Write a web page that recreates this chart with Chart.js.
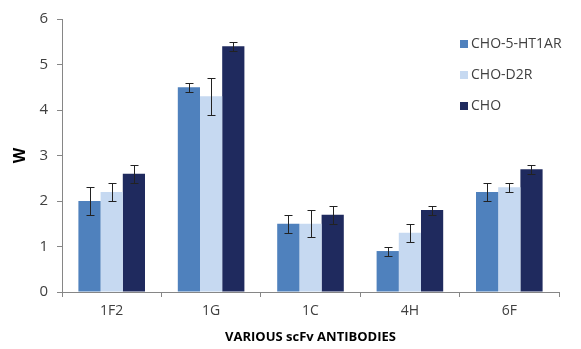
<!DOCTYPE html>
<html>
<head>
<meta charset="utf-8">
<script src="https://cdn.jsdelivr.net/npm/chart.js@4/dist/chart.umd.min.js"></script>
<style>
  html, body { margin: 0; padding: 0; background: #fff; }
  #wrap { width: 581px; height: 349px; }
</style>
</head>
<body>
<div id="wrap"><canvas id="barChart" width="581" height="349"></canvas></div>
<script>
// categories and values
var antibodies = ["1F2", "1G", "1C", "4H", "6F"];
var ht1ar = [2.0, 4.5, 1.5, 0.9, 2.2];
var ht1arErr = [0.3, 0.1, 0.2, 0.1, 0.2];
var d2r = [2.2, 4.3, 1.5, 1.3, 2.3];
var d2rErr = [0.2, 0.4, 0.3, 0.2, 0.1];
var cho = [2.6, 5.4, 1.7, 1.8, 2.7];
var choErr = [0.2, 0.1, 0.2, 0.1, 0.1];
var yTicks = [0, 1, 2, 3, 4, 5, 6];

var fontFam = "'Open Sans', 'Liberation Sans', sans-serif";

// draws error whiskers on top of each bar
var errorBars = {
    id: "errorBars",
    afterDatasetsDraw: function (chart) {
        var ctx = chart.ctx;
        var yScale = chart.scales.y;
        ctx.save();
        ctx.strokeStyle = "#222";
        ctx.lineWidth = 1;
        chart.data.datasets.forEach(function (ds, i) {
            var meta = chart.getDatasetMeta(i);
            meta.data.forEach(function (bar, j) {
                var v = ds.data[j], e = ds.errors[j];
                var x = Math.round(bar.x) + 0.5;
                var yTop = Math.round(yScale.getPixelForValue(v + e)) + 0.5;
                var yBot = Math.round(yScale.getPixelForValue(v - e)) + 0.5;
                ctx.beginPath();
                ctx.moveTo(x, yTop); ctx.lineTo(x, yBot);
                ctx.moveTo(x - 4, yTop); ctx.lineTo(x + 4, yTop);
                ctx.moveTo(x - 4, yBot); ctx.lineTo(x + 4, yBot);
                ctx.stroke();
            });
        });
        ctx.restore();
    }
};

// legend sits inside the plot area top-right, like the original
var floatLegend = {
    id: "floatLegend",
    afterDraw: function (chart) {
        var ctx = chart.ctx;
        ctx.save();
        ctx.font = "14px " + fontFam;
        ctx.textBaseline = "middle";
        chart.data.datasets.forEach(function (ds, i) {
            var y = 44 + i * 31;
            ctx.fillStyle = ds.backgroundColor;
            ctx.fillRect(460, y - 4, 8, 8);
            ctx.fillStyle = "#404040";
            ctx.fillText(ds.label, 471, y);
        });
        ctx.restore();
    }
};

var ctx = document.getElementById("barChart").getContext("2d");
new Chart(ctx, {
    type: "bar",
    data: {
        labels: antibodies,
        datasets: [
            { label: "CHO-5-HT1AR", data: ht1ar, errors: ht1arErr, backgroundColor: "#4F81BD" },
            { label: "CHO-D2R", data: d2r, errors: d2rErr, backgroundColor: "#C6D9F1" },
            { label: "CHO", data: cho, errors: choErr, backgroundColor: "#1F2A5E" }
        ]
    },
    options: {
        responsive: false,
        animation: false,
        layout: { padding: { top: 19, right: 22, left: 0, bottom: 0 } },
        datasets: { bar: { categoryPercentage: 0.67, barPercentage: 1.0 } },
        plugins: {
            legend: { display: false },
            tooltip: { enabled: false }
        },
        scales: {
            x: {
                grid: { drawOnChartArea: false, drawTicks: true, tickLength: 5, color: "#868686" },
                border: { color: "#868686" },
                ticks: { color: "#404040", font: { family: fontFam, size: 14 }, padding: 6 },
                title: {
                    display: true,
                    text: "VARIOUS scFv ANTIBODIES",
                    color: "#000",
                    font: { family: fontFam, size: 13, weight: "bold" },
                    padding: { top: 7 }
                },
                afterFit: function (scale) { scale.height = 57; }
            },
            y: {
                min: 0,
                max: 6,
                afterBuildTicks: function (scale) {
                    scale.ticks = yTicks.map(function (v) { return { value: v }; });
                },
                grid: { drawOnChartArea: false, drawTicks: true, tickLength: 5, color: "#868686" },
                border: { color: "#868686" },
                ticks: { color: "#404040", font: { family: fontFam, size: 15 }, padding: 9 },
                title: {
                    display: true,
                    text: "W",
                    color: "#000",
                    font: { family: fontFam, size: 16, weight: "bold" },
                    padding: { top: 11, bottom: 0 }
                },
                afterFit: function (scale) { scale.width = 62; }
            }
        }
    },
    plugins: [errorBars, floatLegend]
});
</script>
</body>
</html>
